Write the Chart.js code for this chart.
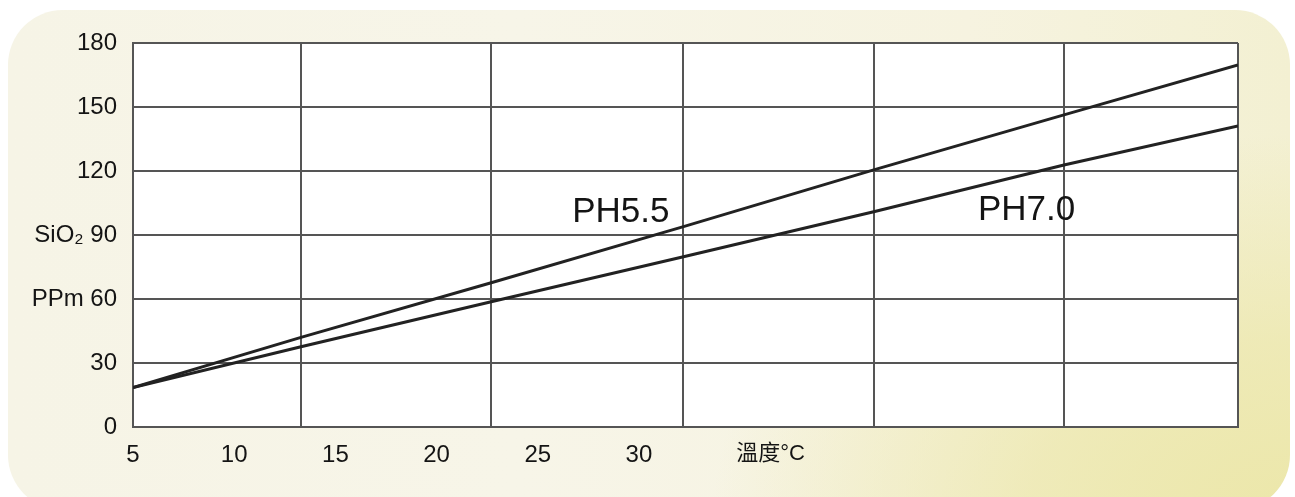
<!DOCTYPE html>
<html>
<head>
<meta charset="utf-8">
<script src="https://cdn.jsdelivr.net/npm/chart.js@4"></script>
<style>
  html, body { margin: 0; padding: 0; background: #fff; }
  #bg {
    position: absolute; left: 8px; top: 10px; width: 1282px; height: 500px;
    border-radius: 55px;
    background:
      radial-gradient(ellipse 45% 75% at 100% 100%, rgba(236,231,170,1) 0%, rgba(236,231,170,0.7) 45%, rgba(236,231,170,0) 100%),
      linear-gradient(90deg, #f6f4e6 0%, #f7f5e8 40%, #f6f3e0 75%, #f3f0d2 100%);
  }
  #wrap { position: absolute; left: 0; top: 0; width: 1295px; height: 497px; }
</style>
</head>
<body>
<div id="bg"></div>
<div id="wrap"><canvas id="chartjs-0"></canvas></div>
<script>
// temperature positions of the grid columns (same units as the tick labels)
const gridX = [5, 13.3, 22.7, 32.2, 41.6, 51.0, 59.6];
// x tick labels and where they sit
const tickVals = [5, 10, 15, 20, 25, 30, 36.5];
const tickText = ["5", "10", "15", "20", "25", "30", "溫度°C"];
// y labels
const yTicks = { 0: "0", 30: "30", 60: "PPm 60", 90: "SiO₂ 90", 120: "120", 150: "150", 180: "180" };
// series (SiO2 ppm at each grid column)
const ph55 = [18.5, 42.0, 67.6, 93.9, 120.5, 146.3, 169.7];
const ph70 = [18.5, 37.6, 58.7, 79.8, 100.9, 122.8, 141.1];
// in-plot labels
const noteText = ["PH5.5", "PH7.0"];
const noteX = [26.7, 46.75];
const noteY = [96.1, 97.0];

const fontFam = "'Liberation Sans', Arial, 'Noto Sans CJK TC', sans-serif";
const gridColor = "#555";
const textColor = "#141414";

function toPoints(vals) {
    return vals.map((v, i) => ({ x: gridX[i], y: v }));
}

const plotBg = {
    id: "plotBg",
    beforeDraw(chart) {
        let a = chart.chartArea;
        let ctx = chart.ctx;
        ctx.save();
        ctx.fillStyle = "#fff";
        ctx.fillRect(a.left, a.top, a.right - a.left, a.bottom - a.top);
        ctx.restore();
    }
};

const notes = {
    id: "notes",
    afterDatasetsDraw(chart) {
        let ctx = chart.ctx;
        let xs = chart.scales.x, ys = chart.scales.y;
        ctx.save();
        ctx.font = "35px " + fontFam;
        ctx.fillStyle = textColor;
        ctx.textAlign = "left";
        ctx.textBaseline = "alphabetic";
        noteText.forEach((t, i) => {
            ctx.fillText(t, xs.getPixelForValue(noteX[i]), ys.getPixelForValue(noteY[i]));
        });
        ctx.restore();
    }
};

let ctx = document.getElementById("chartjs-0").getContext("2d");
window.myChart = new Chart(ctx, {
    type: "line",
    data: {
        datasets: [
            { label: "PH5.5", data: toPoints(ph55), borderColor: "#222", borderWidth: 3, pointRadius: 0, tension: 0 },
            { label: "PH7.0", data: toPoints(ph70), borderColor: "#222", borderWidth: 3, pointRadius: 0, tension: 0 }
        ]
    },
    options: {
        responsive: true,
        maintainAspectRatio: false,
        animation: false,
        layout: { padding: { left: 0, top: 43, right: 57, bottom: 0 } },
        plugins: { legend: { display: false }, tooltip: { enabled: false } },
        scales: {
            x: {
                type: "linear", position: "bottom", min: 5, max: 59.6,
                afterBuildTicks: (s) => { s.ticks = gridX.map(v => ({ value: v })); },
                afterFit: (s) => { s.height = 0; },
                ticks: { display: false },
                grid: { color: gridColor, lineWidth: 2, drawTicks: false },
                border: { color: gridColor, width: 2 }
            },
            xl: {
                type: "linear", position: "bottom", min: 5, max: 59.6,
                afterBuildTicks: (s) => { s.ticks = tickVals.map(v => ({ value: v })); },
                afterFit: (s) => { s.height = 70; },
                grid: { display: false, drawTicks: false },
                border: { display: false },
                ticks: {
                    autoSkip: false, maxRotation: 0, padding: 14,
                    color: textColor,
                    font: (c) => ({ family: fontFam, size: c.index === tickText.length - 1 ? 22 : 24 }),
                    callback: (v, i) => tickText[i]
                }
            },
            y: {
                min: 0, max: 180,
                afterFit: (s) => { s.width = 133; },
                ticks: {
                    stepSize: 30, padding: 16, color: textColor,
                    font: { family: fontFam, size: 24 },
                    callback: (v) => yTicks[v]
                },
                grid: { color: gridColor, lineWidth: 2, drawTicks: false },
                border: { color: gridColor, width: 2 }
            }
        }
    },
    plugins: [plotBg, notes]
});
</script>
</body>
</html>
